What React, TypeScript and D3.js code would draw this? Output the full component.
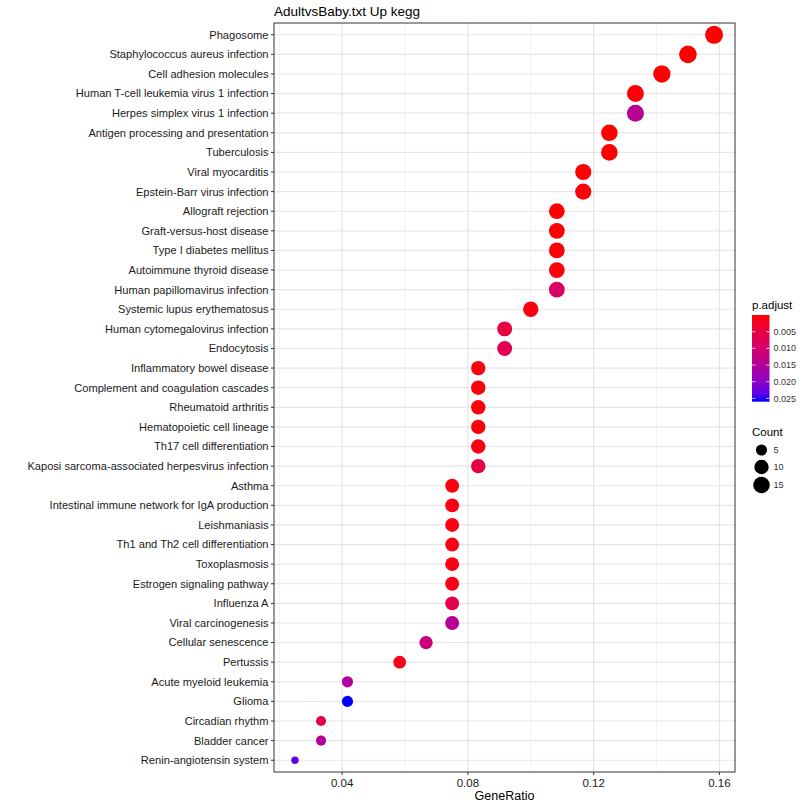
import * as d3 from "d3";

// KEGG enrichment, top to bottom as drawn
const categories = [
  "Phagosome",
  "Staphylococcus aureus infection",
  "Cell adhesion molecules",
  "Human T-cell leukemia virus 1 infection",
  "Herpes simplex virus 1 infection",
  "Antigen processing and presentation",
  "Tuberculosis",
  "Viral myocarditis",
  "Epstein-Barr virus infection",
  "Allograft rejection",
  "Graft-versus-host disease",
  "Type I diabetes mellitus",
  "Autoimmune thyroid disease",
  "Human papillomavirus infection",
  "Systemic lupus erythematosus",
  "Human cytomegalovirus infection",
  "Endocytosis",
  "Inflammatory bowel disease",
  "Complement and coagulation cascades",
  "Rheumatoid arthritis",
  "Hematopoietic cell lineage",
  "Th17 cell differentiation",
  "Kaposi sarcoma-associated herpesvirus infection",
  "Asthma",
  "Intestinal immune network for IgA production",
  "Leishmaniasis",
  "Th1 and Th2 cell differentiation",
  "Toxoplasmosis",
  "Estrogen signaling pathway",
  "Influenza A",
  "Viral carcinogenesis",
  "Cellular senescence",
  "Pertussis",
  "Acute myeloid leukemia",
  "Glioma",
  "Circadian rhythm",
  "Bladder cancer",
  "Renin-angiotensin system",
];

const counts = [
  19, 18, 17, 16, 16, 15, 15, 14, 14, 13, 13, 13, 13, 13, 12, 11, 11, 10, 10,
  10, 10, 10, 10, 9, 9, 9, 9, 9, 9, 9, 9, 8, 7, 5, 5, 4, 4, 3,
];

const geneRatio = [
  0.1583, 0.15, 0.1417, 0.1333, 0.1333, 0.125, 0.125, 0.1167, 0.1167, 0.1083,
  0.1083, 0.1083, 0.1083, 0.1083, 0.1, 0.0917, 0.0917, 0.0833, 0.0833, 0.0833,
  0.0833, 0.0833, 0.0833, 0.075, 0.075, 0.075, 0.075, 0.075, 0.075, 0.075,
  0.075, 0.0667, 0.0583, 0.0417, 0.0417, 0.0333, 0.0333, 0.025,
];

const pAdjust = [
  0.0000001, 0.000001, 0.000002, 0.0003, 0.0142, 0.00005, 0.0001, 0.0002,
  0.0004, 0.0001, 0.0001, 0.0002, 0.0003, 0.0085, 0.0006, 0.0052, 0.0068,
  0.0005, 0.0006, 0.0006, 0.0007, 0.0008, 0.0055, 0.0008, 0.0009, 0.0009,
  0.001, 0.001, 0.0011, 0.0062, 0.0145, 0.0115, 0.0012, 0.0152, 0.026, 0.0055,
  0.0152, 0.0235,
];

const xTicks = [0.04, 0.08, 0.12, 0.16];
const xMinorTicks = [0.02, 0.06, 0.1, 0.14];
const colorTicks = [0.005, 0.01, 0.015, 0.02, 0.025];
const sizeBreaks = [5, 10, 15];

const FONT = "'Liberation Sans', Arial, sans-serif";

const panel = { left: 274, right: 735, top: 23, bottom: 772 };

export default function App() {
  const [gLo, gHi] = d3.extent(geneRatio) as [number, number];
  const pad = (gHi - gLo) * 0.05;
  const x = d3
    .scaleLinear()
    .domain([gLo - pad, gHi + pad])
    .range([panel.left, panel.right]);

  const y = d3
    .scalePoint<string>()
    .domain(categories)
    .range([panel.top, panel.bottom])
    .padding(0.6);

  const pExtent = d3.extent(pAdjust) as [number, number];
  const color = d3
    .scaleLinear<string>()
    .domain(pExtent)
    .range(["red", "blue"])
    .interpolate(d3.interpolateLab);

  // ggplot-like area scale: rescale count to [0,1], then sqrt
  const sizeT = d3
    .scaleLinear()
    .domain(d3.extent(counts) as [number, number])
    .range([0, 1]);
  const rad = d3.scaleLinear().domain([0, 1]).range([3.7, 9]);
  const r = (v: number) => rad(Math.sqrt(Math.max(0, sizeT(v))));

  // colour bar
  const bar = { x: 752, w: 17.5, top: 315, bottom: 401.7 };
  const barY = d3.scaleLinear().domain(pExtent).range([bar.top, bar.bottom]);
  const stops = d3.range(0, 1.0001, 0.1);

  const countY = [450, 467, 485];

  return (
    <svg
      width={800}
      height={808}
      style={{ position: "absolute", left: 0, top: 0, background: "#fff" }}
      fontFamily={FONT}
    >
      <defs>
        <linearGradient id="padj" x1="0" y1="0" x2="0" y2="1">
          {stops.map((t) => (
            <stop
              key={t}
              offset={`${t * 100}%`}
              stopColor={color(pExtent[0] + t * (pExtent[1] - pExtent[0]))}
            />
          ))}
        </linearGradient>
      </defs>
      <rect width={800} height={808} fill="#fff" />

      <text x={panel.left} y={16} fontSize={13.5} fill="#000">
        AdultvsBaby.txt Up kegg
      </text>

      {/* grid */}
      {xMinorTicks.map((t) => (
        <line
          key={"m" + t}
          x1={x(t)}
          x2={x(t)}
          y1={panel.top}
          y2={panel.bottom}
          stroke="#EBEBEB"
          strokeWidth={0.6}
        />
      ))}
      {xTicks.map((t) => (
        <line
          key={"M" + t}
          x1={x(t)}
          x2={x(t)}
          y1={panel.top}
          y2={panel.bottom}
          stroke="#E6E6E6"
          strokeWidth={1.2}
        />
      ))}
      {categories.map((c) => (
        <line
          key={"g" + c}
          x1={panel.left}
          x2={panel.right}
          y1={y(c)}
          y2={y(c)}
          stroke="#E6E6E6"
          strokeWidth={1.2}
        />
      ))}

      {/* points */}
      {categories.map((c, i) => (
        <circle
          key={"p" + c}
          cx={x(geneRatio[i])}
          cy={y(c)}
          r={r(counts[i])}
          fill={color(pAdjust[i])}
        />
      ))}

      <rect
        x={panel.left}
        y={panel.top}
        width={panel.right - panel.left}
        height={panel.bottom - panel.top}
        fill="none"
        stroke="#333"
        strokeWidth={1}
      />

      {/* y axis */}
      {categories.map((c) => (
        <g key={"yl" + c}>
          <line
            x1={panel.left - 3}
            x2={panel.left}
            y1={y(c)}
            y2={y(c)}
            stroke="#333"
          />
          <text
            x={panel.left - 5.5}
            y={y(c)}
            dy="0.35em"
            textAnchor="end"
            fontSize={11.1}
            fill="#1a1a1a"
          >
            {c}
          </text>
        </g>
      ))}

      {/* x axis */}
      {xTicks.map((t) => (
        <g key={"xl" + t}>
          <line
            x1={x(t)}
            x2={x(t)}
            y1={panel.bottom}
            y2={panel.bottom + 3}
            stroke="#333"
          />
          <text
            x={x(t)}
            y={panel.bottom + 15}
            textAnchor="middle"
            fontSize={11.5}
            fill="#1a1a1a"
          >
            {d3.format(".2f")(t)}
          </text>
        </g>
      ))}
      <text
        x={(panel.left + panel.right) / 2}
        y={800}
        textAnchor="middle"
        fontSize={12.5}
        fill="#000"
      >
        GeneRatio
      </text>

      {/* colour legend */}
      <text x={bar.x} y={309} fontSize={11.5} fill="#000">
        p.adjust
      </text>
      <rect
        x={bar.x}
        y={bar.top}
        width={bar.w}
        height={bar.bottom - bar.top}
        fill="url(#padj)"
      />
      {colorTicks.map((t) => (
        <g key={"ct" + t}>
          <line
            x1={bar.x}
            x2={bar.x + 3.5}
            y1={barY(t)}
            y2={barY(t)}
            stroke="#fff"
            strokeOpacity={0.7}
          />
          <line
            x1={bar.x + bar.w - 3.5}
            x2={bar.x + bar.w}
            y1={barY(t)}
            y2={barY(t)}
            stroke="#fff"
            strokeOpacity={0.7}
          />
          <text
            x={bar.x + bar.w + 4}
            y={barY(t)}
            dy="0.35em"
            fontSize={9}
            fill="#333"
          >
            {d3.format(".3f")(t)}
          </text>
        </g>
      ))}

      {/* size legend */}
      <text x={bar.x} y={436} fontSize={11.5} fill="#000">
        Count
      </text>
      {sizeBreaks.map((s, i) => (
        <g key={"sb" + s}>
          <circle cx={761.5} cy={countY[i]} r={r(s)} fill="#000" />
          <text
            x={bar.x + bar.w + 4}
            y={countY[i]}
            dy="0.35em"
            fontSize={9}
            fill="#333"
          >
            {s}
          </text>
        </g>
      ))}
    </svg>
  );
}
